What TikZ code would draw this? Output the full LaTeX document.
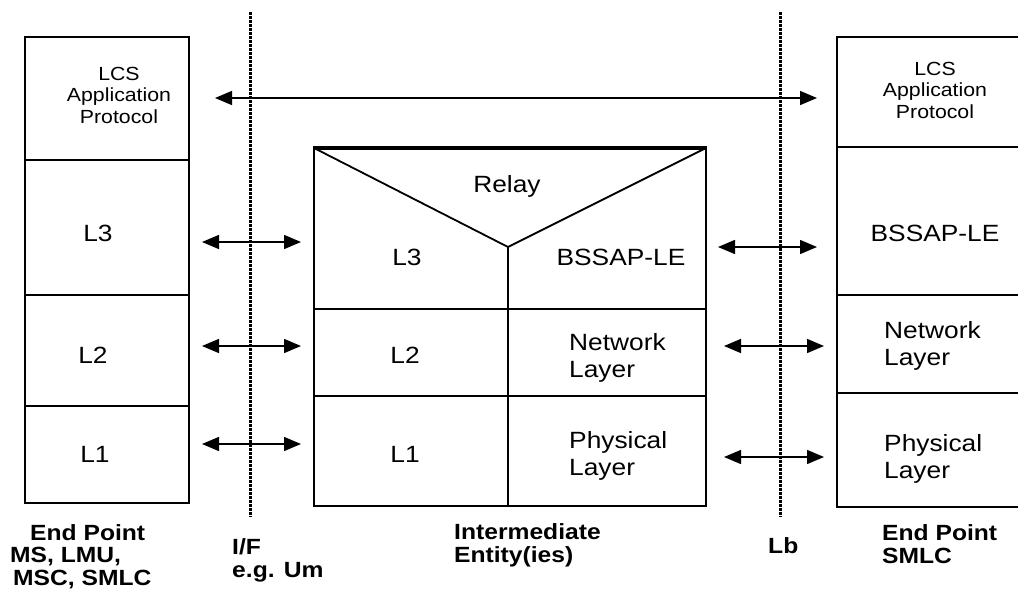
\documentclass[tikz,border=0pt]{standalone}
\usepackage{fontspec}
\setmainfont{Liberation Sans}[FakeStretch=1.12]
\usetikzlibrary{arrows.meta}
\begin{document}
\begin{tikzpicture}[x=1pt,y=-1pt,
  box/.style={line width=1.8pt},
  lbl/.style={font=\fontsize{23.5}{27}\selectfont, inner sep=0pt, anchor=base},
  two/.style={font=\fontsize{23.5}{27}\selectfont, inner sep=0pt, align=left, anchor=base west},
  small/.style={font=\fontsize{19}{21.5}\selectfont, inner sep=0pt, align=center, anchor=base},
  bold/.style={font=\bfseries\fontsize{22}{22.5}\selectfont, inner sep=0pt, align=left, anchor=base west},
  iface/.style={line width=3pt, dash pattern=on 3pt off 1pt},
  link/.style={line width=1.5pt, {Triangle[length=17pt,width=14pt]}-{Triangle[length=17pt,width=14pt]}},
]
\useasboundingbox (0,0) rectangle (1018,589);
% left end point stack
\draw[box] (25,37) rectangle (189,503);
\draw[box] (25,160) -- (189,160);
\draw[box] (25,295) -- (189,295);
\draw[box] (25,406) -- (189,406);
% right end point stack (cut at the right edge)
\draw[box] (1022,37) -- (837,37) -- (837,507) -- (1022,507);
\draw[box] (837,147) -- (1022,147);
\draw[box] (837,295) -- (1022,295);
\draw[box] (837,393) -- (1022,393);
% intermediate entity
\draw[box] (314,148) rectangle (706,506);
\draw[line width=4pt] (313,148) -- (707,148);
\draw[box] (314,148) -- (508,247) -- (706,148);
\draw[box] (508,247) -- (508,506);
\draw[box] (314,309) -- (706,309);
\draw[box] (314,396) -- (706,396);
% interfaces
\coordinate (ift) at (250,12); \coordinate (ifb) at (250,517);
\coordinate (lbt) at (780,12); \coordinate (lbb) at (780,517);
\draw[iface] (ift) -- (ifb);
\draw[iface] (lbt) -- (lbb);
% arrow end points
\coordinate (a1) at (215,98);  \coordinate (a2) at (817,98);
\coordinate (b1) at (202,242); \coordinate (b2) at (301,242);
\coordinate (c1) at (202,346); \coordinate (c2) at (301,346);
\coordinate (d1) at (202,444); \coordinate (d2) at (301,444);
\coordinate (e1) at (718,247); \coordinate (e2) at (817,247);
\coordinate (f1) at (724,346); \coordinate (f2) at (824,346);
\coordinate (g1) at (724,457); \coordinate (g2) at (824,457);
\draw[link] (a1) -- (a2);
\draw[link] (b1) -- (b2);
\draw[link] (c1) -- (c2);
\draw[link] (d1) -- (d2);
\draw[link] (e1) -- (e2);
\draw[link] (f1) -- (f2);
\draw[link] (g1) -- (g2);
% left texts (multi-line nodes: base = last line)
\node[small] (lapp) at (119,123) {LCS\\Application\\Protocol};
\node[lbl] (l3) at (98,241) {L3};
\node[lbl] (l2) at (93,363) {L2};
\node[lbl] (l1) at (95,462) {L1};
% middle texts
\node[lbl] (relay) at (507,192) {Relay};
\node[lbl] (m3) at (407,265) {L3};
\node[lbl] (mb) at (621,265) {BSSAP-LE};
\node[lbl] (m2) at (405,363) {L2};
\node[lbl] (m1) at (405,462) {L1};
\node[two] (mn) at (569,377) {Network\\Layer};
\node[two] (mp) at (569,475) {Physical\\Layer};
% right texts
\node[small] (rapp) at (935,118) {LCS\\Application\\Protocol};
\node[lbl] (rb) at (935,241) {BSSAP-LE};
\node[two] (rn) at (884,365) {Network\\Layer};
\node[two] (rp) at (884,478) {Physical\\Layer};
% bottom captions
\node[bold] (ep1) at (10,585) {\hspace*{20pt}End Point\\MS, LMU,\\\hspace*{3pt}MSC, SMLC};
\node[bold] (ifl) at (232,577) {I/F\\e.g. Um};
\node[bold] (ie) at (454,562) {Intermediate\\Entity(ies)};
\node[bold] (lb) at (768,553) {Lb};
\node[bold] (ep2) at (882,563) {End Point\\SMLC};
\end{tikzpicture}
\end{document}
